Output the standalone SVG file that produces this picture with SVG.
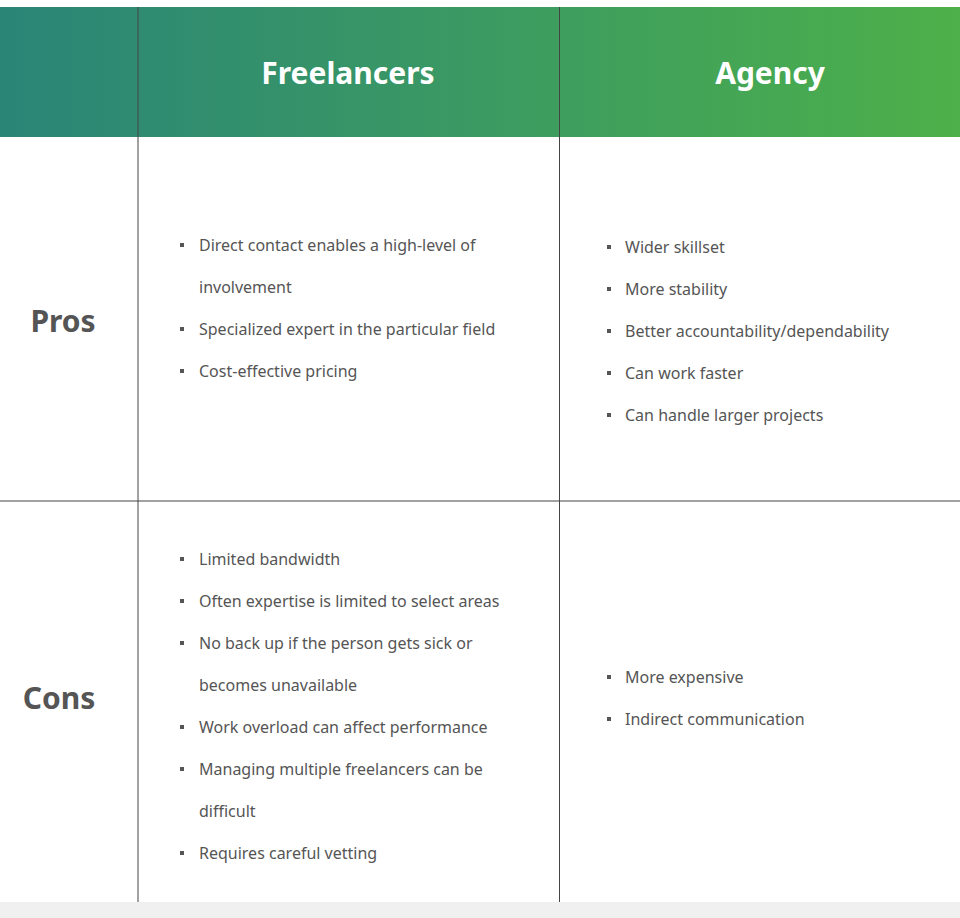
<svg xmlns="http://www.w3.org/2000/svg" width="960" height="918" viewBox="0 0 960 918">
<defs>
<linearGradient id="hg" x1="0" y1="0" x2="1" y2="0">
<stop offset="0" stop-color="#2a8577"/>
<stop offset="0.5" stop-color="#3b9a62"/>
<stop offset="1" stop-color="#4db049"/>
</linearGradient>
<style>
.h{font-family:"Noto Sans","Open Sans",sans-serif;font-weight:700;font-size:30px;fill:#fff;text-anchor:middle}
.r{font-family:"Noto Sans","Open Sans",sans-serif;font-weight:700;font-size:30px;fill:#555;text-anchor:middle}
.t{font-family:"Noto Sans","Open Sans",sans-serif;font-size:16px;fill:#555}
.b{fill:#555}
.l{stroke:#444;stroke-width:1}
</style>
</defs>
<rect width="960" height="918" fill="#fff"/>
<rect x="0" y="902" width="960" height="16" fill="#f0f0f0"/>
<g id="header">
<rect x="0" y="7" width="960" height="130" fill="url(#hg)"/>
<text class="h" x="348" y="84">Freelancers</text>
<text class="h" x="770" y="84">Agency</text>
</g>
<g id="grid">
<line class="l" x1="138" y1="7" x2="138" y2="902"/>
<line class="l" x1="559.5" y1="7" x2="559.5" y2="902"/>
<line class="l" x1="0" y1="501" x2="960" y2="501"/>
</g>
<g id="pros-label"><text class="r" x="63" y="332">Pros</text></g>
<g id="cons-label"><text class="r" x="59" y="709">Cons</text></g>
<g id="free-pros">
<rect class="b" x="180" y="243" width="4" height="4"/><text class="t" x="199" y="251">Direct contact enables a high-level of</text>
<text class="t" x="199" y="293">involvement</text>
<rect class="b" x="180" y="327" width="4" height="4"/><text class="t" x="199" y="335">Specialized expert in the particular field</text>
<rect class="b" x="180" y="369" width="4" height="4"/><text class="t" x="199" y="377">Cost-effective pricing</text>
</g>
<g id="agency-pros">
<rect class="b" x="607" y="245" width="4" height="4"/><text class="t" x="625" y="253">Wider skillset</text>
<rect class="b" x="607" y="287" width="4" height="4"/><text class="t" x="625" y="295">More stability</text>
<rect class="b" x="607" y="329" width="4" height="4"/><text class="t" x="625" y="337">Better accountability/dependability</text>
<rect class="b" x="607" y="371" width="4" height="4"/><text class="t" x="625" y="379">Can work faster</text>
<rect class="b" x="607" y="413" width="4" height="4"/><text class="t" x="625" y="421">Can handle larger projects</text>
</g>
<g id="free-cons">
<rect class="b" x="180" y="557" width="4" height="4"/><text class="t" x="199" y="565">Limited bandwidth</text>
<rect class="b" x="180" y="599" width="4" height="4"/><text class="t" x="199" y="607">Often expertise is limited to select areas</text>
<rect class="b" x="180" y="641" width="4" height="4"/><text class="t" x="199" y="649">No back up if the person gets sick or</text>
<text class="t" x="199" y="691">becomes unavailable</text>
<rect class="b" x="180" y="725" width="4" height="4"/><text class="t" x="199" y="733">Work overload can affect performance</text>
<rect class="b" x="180" y="767" width="4" height="4"/><text class="t" x="199" y="775">Managing multiple freelancers can be</text>
<text class="t" x="199" y="817">difficult</text>
<rect class="b" x="180" y="851" width="4" height="4"/><text class="t" x="199" y="859">Requires careful vetting</text>
</g>
<g id="agency-cons">
<rect class="b" x="607" y="675" width="4" height="4"/><text class="t" x="625" y="683">More expensive</text>
<rect class="b" x="607" y="717" width="4" height="4"/><text class="t" x="625" y="725">Indirect communication</text>
</g>
</svg>
